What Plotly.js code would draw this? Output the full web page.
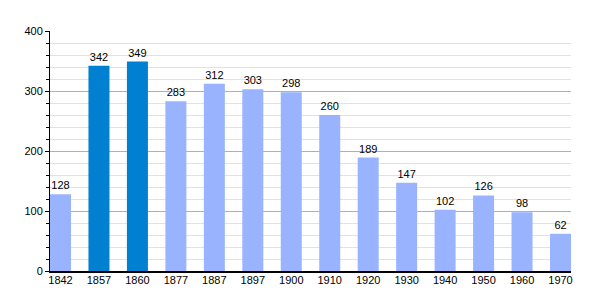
<!DOCTYPE html>
<html><head><meta charset="utf-8">
<script src="https://cdn.plot.ly/plotly-3.0.1.min.js"></script>
<style>body{margin:0;padding:0;}#c{width:600px;height:300px;}</style>
</head><body><div id="c"></div>
<script>
const years = ["1842","1857","1860","1877","1887","1897","1900","1910","1920","1930","1940","1950","1960","1970"];
const population = [128,342,349,283,312,303,298,260,189,147,102,126,98,62];
const highlighted = ["1857","1860"];
const colors = years.map(y => highlighted.includes(y) ? "#0080d0" : "#99b3ff");
Plotly.newPlot("c", [{
  type: "bar", x: years, y: population,
  marker: {color: colors},
  text: population.map(String), textposition: "outside",
  textfont: {family: "Liberation Sans, Arial, sans-serif", size: 11, color: "#000"},
  cliponaxis: false, width: 0.546
}], {
  width: 600, height: 300,
  margin: {l: 50, r: 29, t: 31, b: 29},
  paper_bgcolor: "#fff", plot_bgcolor: "#fff",
  font: {family: "Liberation Sans, Arial, sans-serif", size: 11, color: "#000"},
  showlegend: false,
  xaxis: {type: "category", range: [-0.273, 13.273], showline: true, linecolor: "#000", linewidth: 1.5,
          ticks: "", showgrid: false, fixedrange: true, ticklabelstandoff: -2},
  yaxis: {range: [0, 400], dtick: 100, showline: true, linecolor: "#000", linewidth: 1,
          ticks: "outside", ticklen: 4, tickcolor: "#000", gridcolor: "#b0b0b0", zeroline: false,
          minor: {dtick: 20, ticks: "outside", ticklen: 3, tickcolor: "#000", showgrid: true, gridcolor: "#e2e2e2"},
          fixedrange: true}
}, {displayModeBar: false, staticPlot: true});
</script></body></html>
